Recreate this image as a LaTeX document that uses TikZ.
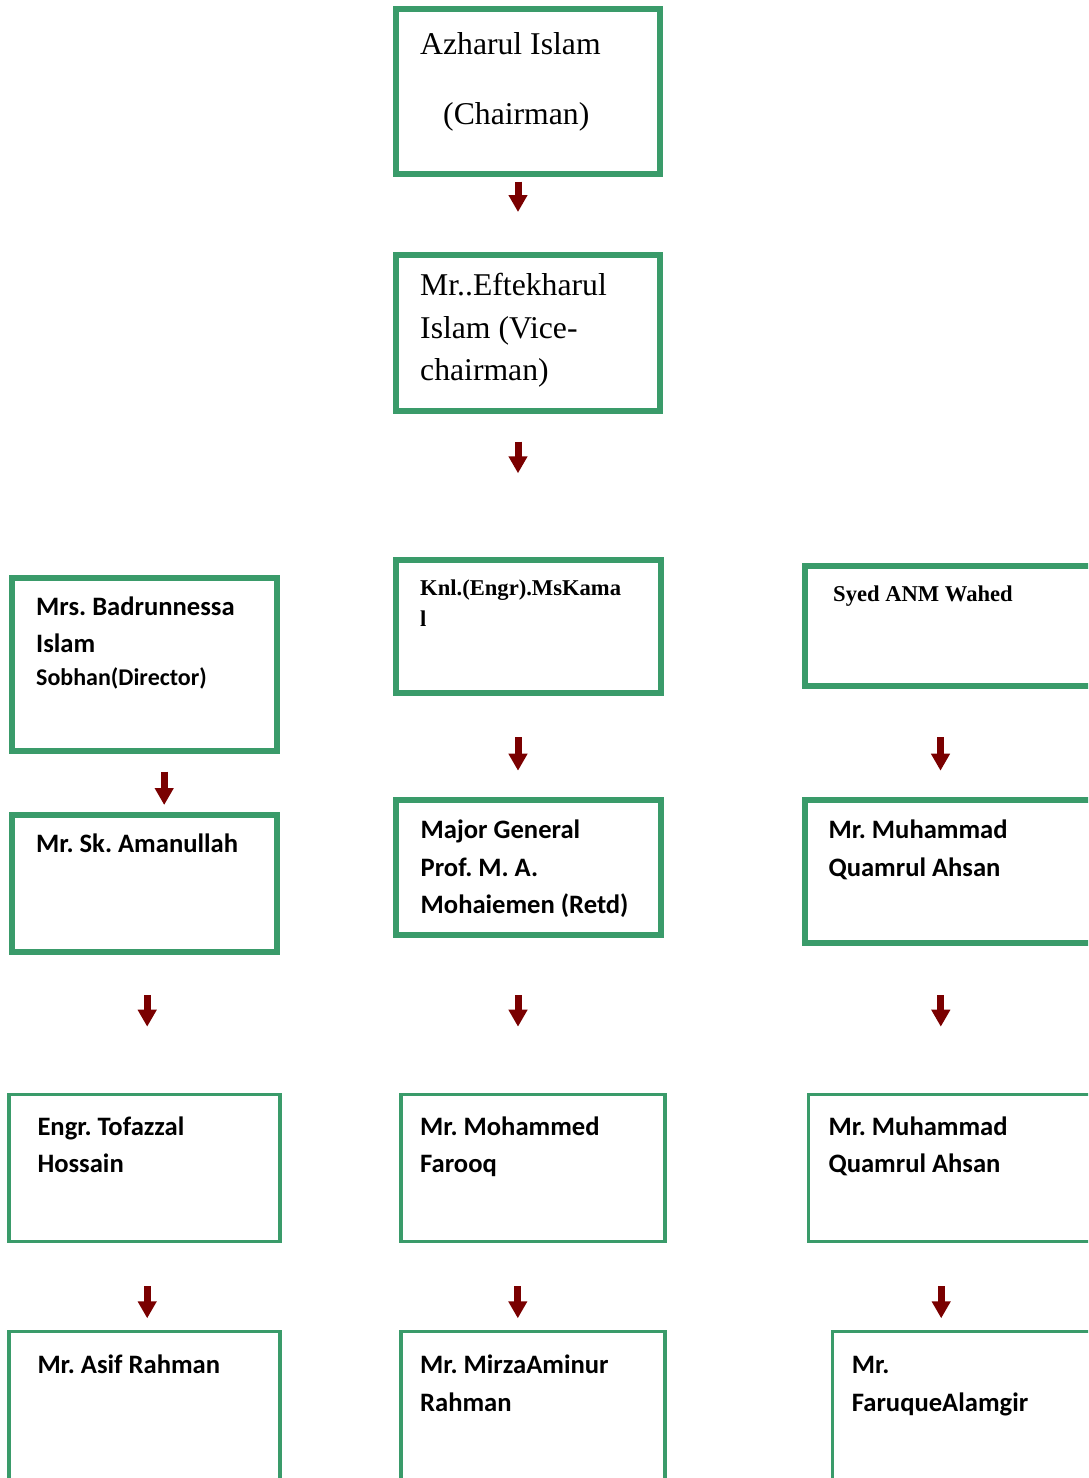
\documentclass[tikz,border=0pt]{standalone}
\usepackage{fontspec}
\usetikzlibrary{arrows.meta}
\newfontfamily\timesf{Liberation Serif}
\newfontfamily\carlf{Carlito}
\definecolor{boxgreen}{RGB}{58,155,106}
\definecolor{arrred}{RGB}{122,0,0}
\tikzset{
  boxthick/.style={draw=boxgreen, line width=6pt, inner sep=0pt, outer sep=0pt},
  boxthin/.style={draw=boxgreen, line width=3.5pt, inner sep=0pt, outer sep=0pt},
  serifbig/.style={inner sep=0pt, anchor=base west, font=\timesf\fontsize{31.7}{42.5}\selectfont\frenchspacing},
  serifbold/.style={inner sep=0pt, anchor=base west, font=\timesf\bfseries\fontsize{22.6}{31}\selectfont\frenchspacing},
  sansbold/.style={inner sep=0pt, anchor=base west, font=\carlf\bfseries\fontsize{26.6}{37.7}\selectfont\frenchspacing},
  sanssmall/.style={inner sep=0pt, anchor=base west, font=\carlf\bfseries\fontsize{24}{30}\selectfont\frenchspacing},
  arr/.style={draw=arrred, line width=7pt, -{Triangle[width=18pt,length=17pt,fill=arrred]}}
}
\begin{document}
\begin{tikzpicture}[x=1pt,y=-1pt]
\useasboundingbox (0,0) rectangle (1088,1478);
\clip (0,0) rectangle (1088,1478);
\fill[white] (0,0) rectangle (1088,1478);

% row 1 and 2
\node[boxthick, minimum width=264pt, minimum height=165pt] (chair) at (528,91.5) {};
\node[serifbig] (chairT1) at (420,54) {Azharul Islam};
\node[serifbig] (chairT2) at (443,124) {(Chairman)};

\node[boxthick, minimum width=264pt, minimum height=156pt] (vice) at (528,333) {};
\node[serifbig] (viceT1) at (420,295.5) {Mr..Eftekharul};
\node[serifbig] (viceT2) at (420,338) {Islam (Vice-};
\node[serifbig] (viceT3) at (420,380.5) {chairman)};

% row 3
\node[boxthick, minimum width=265pt, minimum height=173pt] (badr) at (144.5,664.5) {};
\node[sansbold] (badrT1) at (36,615) {Mrs. Badrunnessa};
\node[sansbold] (badrT2) at (36,652.7) {Islam};
\node[sanssmall] (badrT3) at (36,685) {Sobhan(Director)};

\node[boxthick, minimum width=265pt, minimum height=133pt] (knl) at (528.5,626.5) {};
\node[serifbold] (knlT1) at (420,595.5) {Knl.(Engr).MsKama};
\node[serifbold] (knlT2) at (420,626.5) {l};

\node[boxthick, minimum width=295.5pt, minimum height=119.5pt] (syed) at (952.25,625.75) {};
\node[serifbold] (syedT) at (833,601.5) {Syed ANM Wahed};

% row 4
\node[boxthick, minimum width=265pt, minimum height=137pt] (aman) at (144.5,883.5) {};
\node[sansbold] (amanT) at (36,852.7) {Mr. Sk. Amanullah};

\node[boxthick, minimum width=265pt, minimum height=134.5pt] (major) at (528.5,867.25) {};
\node[sansbold] (majorT1) at (420.5,838) {Major General};
\node[sansbold] (majorT2) at (420.5,876) {Prof. M. A.};
\node[sansbold] (majorT3) at (420.5,913) {Mohaiemen (Retd)};

\node[boxthick, minimum width=295.5pt, minimum height=143pt] (muhA) at (952.25,871.5) {};
\node[sansbold] (muhAT1) at (828.3,838) {Mr. Muhammad};
\node[sansbold] (muhAT2) at (828.3,876) {Quamrul Ahsan};

% row 5
\node[boxthin, minimum width=271pt, minimum height=147pt] (tof) at (144.5,1168) {};
\node[sansbold] (tofT1) at (37.3,1135) {Engr. Tofazzal};
\node[sansbold] (tofT2) at (37.3,1172.7) {Hossain};

\node[boxthin, minimum width=264pt, minimum height=147pt] (moh) at (533,1168) {};
\node[sansbold] (mohT1) at (420,1135) {Mr. Mohammed};
\node[sansbold] (mohT2) at (420,1172.7) {Farooq};

\node[boxthin, minimum width=291.3pt, minimum height=147pt] (muhB) at (954.35,1168) {};
\node[sansbold] (muhBT1) at (828.3,1135) {Mr. Muhammad};
\node[sansbold] (muhBT2) at (828.3,1172.7) {Quamrul Ahsan};

% row 6
\node[boxthin, minimum width=271pt, minimum height=168.3pt] (asif) at (144.5,1415.85) {};
\node[sansbold] (asifT) at (37.3,1373.3) {Mr. Asif Rahman};

\node[boxthin, minimum width=264pt, minimum height=168.3pt] (mirza) at (533,1415.85) {};
\node[sansbold] (mirzaT1) at (420,1373.3) {Mr. MirzaAminur};
\node[sansbold] (mirzaT2) at (420,1411.5) {Rahman};

\node[boxthin, minimum width=267.3pt, minimum height=168.3pt] (faruq) at (966.35,1415.85) {};
\node[sansbold] (faruqT1) at (851.7,1373.3) {Mr.};
\node[sansbold] (faruqT2) at (851.7,1411.5) {FaruqueAlamgir};

% arrows
\foreach \n/\x/\ya/\yb in {
  aA/518/181.7/212,
  aB/518/441.7/473.3,
  aCL/164.2/771.7/805,
  aCM/518/737.3/770.7,
  aCR/940.5/737.3/770.7,
  aDL/147.2/995/1026.7,
  aDM/518/995/1026.7,
  aDR/940.8/995/1026.7,
  aEL/147.2/1286/1318.3,
  aEM/517.8/1286/1318.3,
  aER/941.2/1286/1318.3}{
  \coordinate (\n s) at (\x,\ya);
  \coordinate (\n e) at (\x,\yb);
  \draw[arr] (\n s) -- (\n e);
}
\end{tikzpicture}
\end{document}
